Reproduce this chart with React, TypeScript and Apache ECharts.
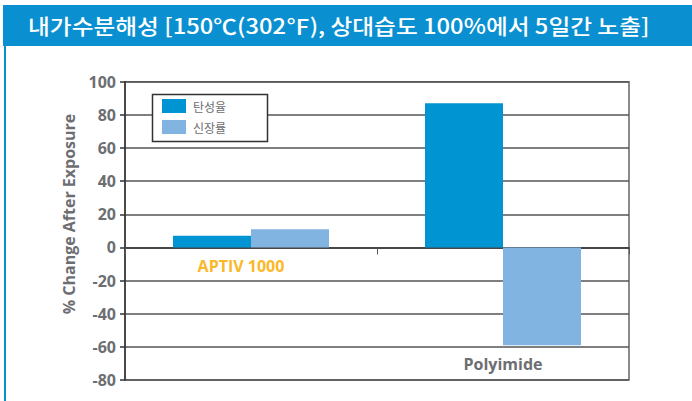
import React, { useEffect, useRef } from "react";
import * as echarts from "echarts";

const titleText = "내가수분해성 [150℃(302℉), 상대습도 100%에서 5일간 노출]";
const yAxisName = "% Change After Exposure";
const categories = ["APTIV 1000", "Polyimide"];
const seriesNames = ["탄성율", "신장률"];
const modulusValues = [7, 87];
const elongationValues = [11, -59];
const yMin = -80;
const yMax = 100;
const yStep = 20;

const DARK = "#0094d3";
const LIGHT = "#82b4e2";
const GRAY = "#6d6e71";
const FONT = "'Open Sans', 'Noto Sans', sans-serif";

export default function App() {
  const ref = useRef<HTMLDivElement>(null);
  useEffect(() => {
    if (!ref.current) return;
    const chart = echarts.init(ref.current, undefined, { renderer: "svg" });
    chart.setOption({
      animation: false,
      backgroundColor: "#ffffff",
      textStyle: { fontFamily: FONT },
      grid: {
        left: 125,
        right: 63,
        top: 81.7,
        bottom: 21,
        outerBoundsMode: "none",
        containLabel: false,
        show: true,
        borderColor: "#666",
        borderWidth: 1.5,
        backgroundColor: "transparent",
      },
      legend: {
        orient: "vertical",
        left: 162,
        top: 99,
        padding: 0,
        itemWidth: 24,
        itemHeight: 14,
        itemGap: 7,
        icon: "rect",
        z: 6,
        textStyle: { color: GRAY, fontSize: 12, fontFamily: "'Noto Sans CJK KR', sans-serif", padding: [0, 0, 0, 2] },
        data: seriesNames,
      },
      xAxis: {
        type: "category",
        data: categories,
        axisLine: { onZero: true, lineStyle: { color: "#333", width: 1.5 } },
        axisTick: { show: true, length: 7, lineStyle: { color: "#555", width: 1 } },
        axisLabel: {
          inside: true,
          margin: 8,
          verticalAlign: "bottom",
          formatter: (v: string) => (v === categories[0] ? `{a|${v}}` : `{b|${v}}`),
          rich: {
            a: { color: "#fbb829", fontSize: 16, fontWeight: "bold", fontFamily: FONT, padding: [0, 20, 98, 0] },
            b: { color: GRAY, fontSize: 16, fontWeight: "bold", fontFamily: FONT },
          },
        },
        splitLine: { show: false },
      },
      yAxis: {
        type: "value",
        min: yMin,
        max: yMax,
        interval: yStep,
        axisLine: { show: true, lineStyle: { color: "#333", width: 1.5 } },
        axisTick: { show: true, length: 5, lineStyle: { color: "#333", width: 1.5 } },
        axisLabel: { color: GRAY, fontSize: 16, fontWeight: "bold", fontFamily: FONT, margin: 9 },
        splitLine: { show: true, lineStyle: { color: "#555", width: 1.5 } },
      },
      series: [
        {
          name: seriesNames[0],
          type: "bar",
          data: modulusValues,
          barWidth: 78,
          barGap: "0%",
          itemStyle: { color: DARK },
          z: 3,
        },
        {
          name: seriesNames[1],
          type: "bar",
          data: elongationValues,
          barWidth: 78,
          barGap: "0%",
          itemStyle: { color: LIGHT },
          z: 3,
        },
      ],
      graphic: [
        { type: "rect", shape: { x: 3, y: 5, width: 689, height: 41 }, style: { fill: "#0a90d1" }, z: 10 },
        { type: "rect", shape: { x: 4, y: 46, width: 2, height: 355 }, style: { fill: "#0a90d1" }, z: 10 },
        {
          type: "text",
          x: 28,
          y: 25,
          scaleX: 1.13,
          z: 11,
          style: {
            text: titleText,
            fill: "#ffffff",
            fontSize: 21,
            fontWeight: 500,
            fontFamily: "'Noto Sans CJK KR', sans-serif",
            verticalAlign: "middle",
            align: "left",
          },
        },
        {
          type: "text",
          x: 69,
          y: 214,
          rotation: Math.PI / 2,
          z: 11,
          style: {
            text: yAxisName,
            fill: GRAY,
            fontSize: 16,
            fontWeight: "bold",
            fontFamily: FONT,
            align: "center",
            verticalAlign: "middle",
          },
        },
        {
          type: "rect",
          shape: { x: 152.5, y: 94.5, width: 115, height: 47 },
          style: { fill: "#ffffff", stroke: "#333", lineWidth: 1.5 },
          z: 3,
        },
      ],
    });
    return () => chart.dispose();
  }, []);
  return <div ref={ref} style={{ position: "fixed", left: 0, top: 0, width: 692, height: 401 }} />;
}
